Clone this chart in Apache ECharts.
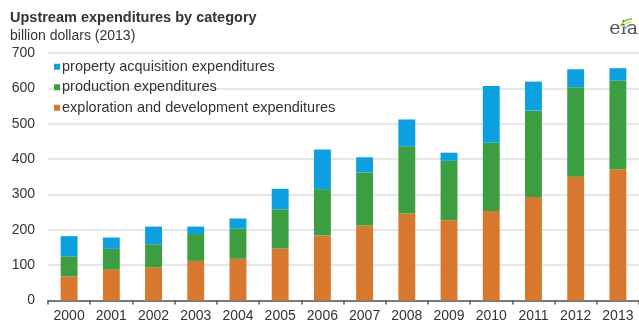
<!DOCTYPE html>
<html>
<head>
<meta charset="utf-8">
<script src="https://cdn.jsdelivr.net/npm/echarts@6/dist/echarts.min.js"></script>
<style>
  html, body { margin: 0; padding: 0; background: #fff; }
  #chart { width: 639px; height: 325px; }
</style>
</head>
<body>
<div id="chart"></div>
<script>
// Upstream expenditures by category, billion dollars (2013)
const years = ['2000','2001','2002','2003','2004','2005','2006','2007','2008','2009','2010','2011','2012','2013'];
const exploration = [68, 87, 94, 112, 118, 147, 184, 212, 246, 227, 253, 293, 350, 371];
const production  = [57, 59, 65, 76, 85, 111, 131, 150, 190, 168, 193, 244, 253, 251];
const property    = [57, 32, 50, 21, 29, 58, 112, 43, 76, 23, 161, 82, 51, 35];
const yTicks = { min: 0, max: 700, interval: 100 };

const names = {
  property: 'property acquisition expenditures',
  production: 'production expenditures',
  exploration: 'exploration and development expenditures'
};

const font = 'Liberation Sans, Arial, sans-serif';
const chart = echarts.init(document.getElementById('chart'));

chart.setOption({
  animation: false,
  textStyle: { fontFamily: font },
  title: {
    text: 'Upstream expenditures by category',
    subtext: 'billion dollars (2013)',
    left: 10,
    top: 10,
    padding: 0,
    itemGap: 4,
    textStyle: { fontSize: 14.5, fontWeight: 'bold', color: '#333', fontFamily: font },
    subtextStyle: { fontSize: 14, color: '#333', fontFamily: font }
  },
  legend: {
    orient: 'vertical',
    left: 54,
    top: 56.5,
    padding: 0,
    itemWidth: 6,
    itemHeight: 6,
    itemGap: 0,
    icon: 'rect',
    textStyle: { fontSize: 14.5, color: '#333', lineHeight: 20.5, padding: [0, 0, 0, -3], fontFamily: font },
    data: [names.property, names.production, names.exploration]
  },
  grid: { left: 48, right: 0, top: 53, bottom: 24.5, containLabel: false },
  xAxis: {
    type: 'category',
    data: years,
    axisLine: { lineStyle: { color: '#555', width: 1.5 } },
    axisTick: { show: true, length: 4, lineStyle: { color: '#555', width: 1.5 } },
    axisLabel: { color: '#333', fontSize: 14, margin: 9, interval: 0 }
  },
  yAxis: {
    type: 'value',
    min: yTicks.min,
    max: yTicks.max,
    interval: yTicks.interval,
    axisLine: { show: false },
    axisTick: { show: false },
    axisLabel: { color: '#333', fontSize: 14, margin: 13 },
    splitLine: { lineStyle: { color: '#dedede', width: 1.5 } }
  },
  series: [
    { name: names.exploration, type: 'bar', stack: 'total', data: exploration, barWidth: '40%', itemStyle: { color: '#D8772E' } },
    { name: names.production, type: 'bar', stack: 'total', data: production, itemStyle: { color: '#3C9E40' } },
    { name: names.property, type: 'bar', stack: 'total', data: property, itemStyle: { color: '#0CA0E0' } }
  ],
  graphic: [
    {
      type: 'text', right: 1, top: 20,
      style: { text: 'eia', fontSize: 19, fontFamily: 'DejaVu Serif, Liberation Serif, serif', fill: '#555' }
    },
    {
      type: 'arc', shape: { cx: 632, cy: 32, r: 13, startAngle: Math.PI * 1.15, endAngle: Math.PI * 1.5 },
      style: { stroke: '#7BC143', lineWidth: 1.5, fill: null }
    },
    {
      type: 'arc', shape: { cx: 632, cy: 33, r: 11, startAngle: Math.PI * 1.18, endAngle: Math.PI * 1.5 },
      style: { stroke: '#F2C230', lineWidth: 1.2, fill: null }
    },
    {
      type: 'arc', shape: { cx: 632, cy: 34, r: 9, startAngle: Math.PI * 1.2, endAngle: Math.PI * 1.5 },
      style: { stroke: '#2A9ED8', lineWidth: 1.2, fill: null }
    }
  ]
});
</script>
</body>
</html>
